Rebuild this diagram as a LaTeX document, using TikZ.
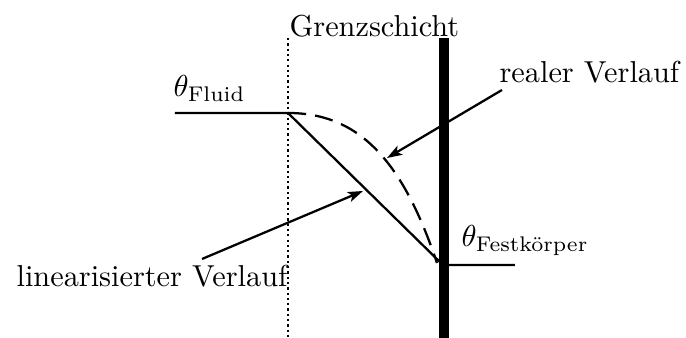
\documentclass[tikz,border=0pt]{standalone}
\usepackage{amsmath}
\usetikzlibrary{arrows.meta}
\begin{document}
\begin{tikzpicture}[x=0.33pt,y=-0.33pt,
  line/.style={line width=0.75pt},
  pointer/.style={line width=0.75pt,-{Stealth[length=5pt,width=3.4pt,inset=1.2pt]}},
  lbl/.style={inner sep=0pt,anchor=base west}]
\useasboundingbox (0,0) rectangle (686,338);
% coordinates
\coordinate (gtop) at (288,38);
\coordinate (gbot) at (288,338);
\coordinate (wtop) at (444,38);
\coordinate (wbot) at (444,338);
\coordinate (fl) at (175,113);
\coordinate (A) at (288,113);
\coordinate (B) at (443,265);
\coordinate (Bd) at (437,263);
\coordinate (fk) at (515,265);
\coordinate (rs) at (502,90);
\coordinate (re) at (387,158);
\coordinate (ls) at (202,259);
\coordinate (le) at (363,191);
% boundary layer and wall
\draw[line width=0.75pt,dash pattern=on 0.75pt off 1.0pt] (gtop) -- (gbot);
\draw[line width=3pt] (wtop) -- (wbot);
% profiles
\draw[line] (fl) -- (A) -- (B) -- (fk);
\draw[line,dash pattern=on 6pt off 3pt] (A) .. controls (360,113) and (403,162) .. (Bd);
% pointers
\draw[pointer] (rs) -- (re);
\draw[pointer] (ls) -- (le);
% labels
\node[lbl] (tg) at (289,37) {Grenzschicht};
\node[lbl] (tf) at (173,97) {$\theta_{\text{Fluid}}$};
\node[lbl] (tr) at (499,83) {realer Verlauf};
\node[lbl] (ts) at (461,247) {$\theta_{\text{Festkörper}}$};
\node[lbl] (tl) at (16,287) {linearisierter Verlauf};
\end{tikzpicture}
\end{document}
